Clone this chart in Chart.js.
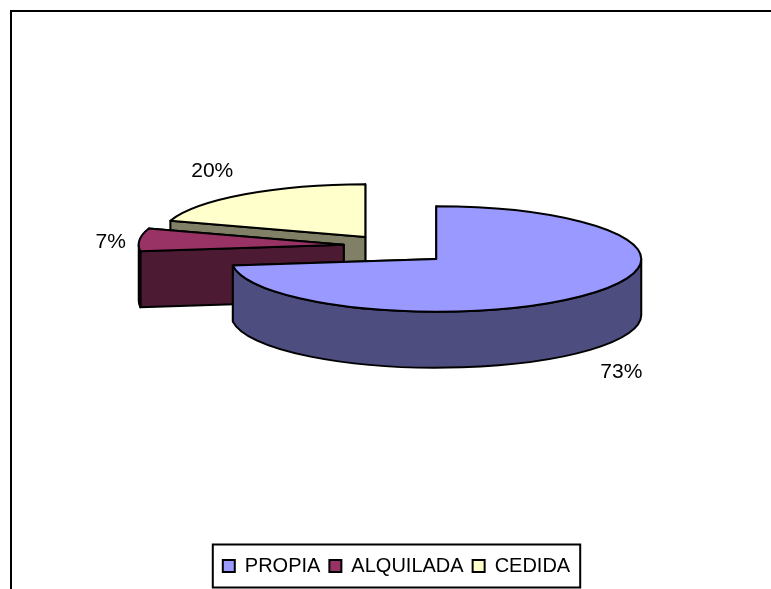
<!DOCTYPE html>
<html>
<head>
<meta charset="utf-8">
<title>Vivienda</title>
<script src="https://cdn.jsdelivr.net/npm/chart.js@4"></script>
<style>
    html, body { margin: 0; padding: 0; background: #fff; overflow: hidden; }
    canvas { display: block; }
</style>
</head>
<body>
<canvas id="pieChart" width="771" height="589"></canvas>
<script>
const categories = ['PROPIA', 'ALQUILADA', 'CEDIDA'];
const shares = [73, 7, 20];
const shareLabels = ['73%', '7%', '20%'];
const topColors = ['#9999FF', '#993366', '#FFFFCC'];
const wallColors = ['#4D4D80', '#4D1A33', '#808066'];

// look of the old 3D pie, Chart.js has no such mode so a plugin extrudes its arcs
const SQUASH = 0.257;
const DEPTH = 56;
const CENTER_Y = 250;
const sliceLift = [0, -4, -2];
const labelNudge = [[5, 72], [6, 3], [-12, -16]];
const drawOrder = [2, 1, 0];

function sliceGeometry(arc) {
    return arc.getProps(['x', 'startAngle', 'endAngle', 'outerRadius']);
}

function drawSlice(ctx, arc, index) {
    const g = sliceGeometry(arc);
    const mid = (g.startAngle + g.endAngle) / 2;
    const offset = arc.options.offset;
    const r = g.outerRadius;
    const ry = r * SQUASH;
    const cx = g.x + Math.cos(mid) * offset;
    const cy = CENTER_Y + Math.sin(mid) * offset * SQUASH + sliceLift[index];
    const px = a => cx + Math.cos(a) * r;
    const py = a => cy + Math.sin(a) * ry;

    ctx.lineWidth = 2;
    ctx.lineJoin = 'round';
    ctx.strokeStyle = '#000';

    const walls = [g.startAngle, g.endAngle].map(a => ({
        sortY: (cy + py(a)) / 2,
        path() {
            ctx.moveTo(cx, cy);
            ctx.lineTo(px(a), py(a));
            ctx.lineTo(px(a), py(a) + DEPTH);
            ctx.lineTo(cx, cy + DEPTH);
            ctx.closePath();
        }
    }));

    // only the front half of the rim can be seen, angle 0 to PI on the canvas
    const rimFrom = Math.max(g.startAngle, 0);
    const rimTo = Math.min(g.endAngle, Math.PI);
    if (rimTo > rimFrom) {
        walls.push({
            sortY: py((rimFrom + rimTo) / 2),
            path() {
                ctx.ellipse(cx, cy, r, ry, 0, rimFrom, rimTo);
                ctx.ellipse(cx, cy + DEPTH, r, ry, 0, rimTo, rimFrom, true);
                ctx.closePath();
            }
        });
    }

    // walls back to front, the top face hides what is behind it
    walls.sort((a, b) => a.sortY - b.sortY);
    walls.forEach(w => {
        ctx.beginPath();
        w.path();
        ctx.fillStyle = wallColors[index];
        ctx.fill();
        ctx.stroke();
    });

    ctx.beginPath();
    ctx.moveTo(cx, cy);
    ctx.ellipse(cx, cy, r, ry, 0, g.startAngle, g.endAngle);
    ctx.closePath();
    ctx.fillStyle = topColors[index];
    ctx.fill();
    ctx.stroke();
}

function drawShareLabel(ctx, arc, index) {
    const g = sliceGeometry(arc);
    const mid = (g.startAngle + g.endAngle) / 2;
    const offset = arc.options.offset;
    const reach = g.outerRadius + 35;
    const x = g.x + Math.cos(mid) * (offset + reach) + labelNudge[index][0];
    const y = CENTER_Y + Math.sin(mid) * (offset + reach) * SQUASH + sliceLift[index] + labelNudge[index][1];
    ctx.fillStyle = '#000';
    ctx.font = '21px "Liberation Sans", Arial, sans-serif';
    ctx.textAlign = 'center';
    ctx.textBaseline = 'middle';
    ctx.fillText(shareLabels[index], x, y);
}

const pie3d = {
    id: 'pie3d',
    beforeDatasetDraw(chart, args) {
        const ctx = chart.ctx;
        const arcs = args.meta.data;
        ctx.save();
        drawOrder.forEach(i => drawSlice(ctx, arcs[i], i));
        drawOrder.forEach(i => drawShareLabel(ctx, arcs[i], i));
        ctx.restore();
        return false;
    },
    afterDraw(chart) {
        const ctx = chart.ctx;
        const boxes = chart.legend.legendHitBoxes;
        const left = Math.min(...boxes.map(b => b.left)) - 10;
        const right = Math.max(...boxes.map(b => b.left + b.width)) + 10;
        const midY = boxes[0].top + boxes[0].height / 2;
        ctx.save();
        ctx.strokeStyle = '#000';
        ctx.lineWidth = 2;
        // outer frame, cut off on the right and at the bottom in the original
        ctx.beginPath();
        ctx.moveTo(11, 589);
        ctx.lineTo(11, 11);
        ctx.lineTo(771, 11);
        ctx.stroke();
        ctx.strokeRect(left, midY - 21.5, right - left, 43);
        ctx.restore();
    }
};

new Chart(document.getElementById('pieChart').getContext('2d'), {
    type: 'pie',
    data: {
        labels: categories,
        datasets: [{
            data: shares,
            backgroundColor: topColors,
            borderColor: '#000',
            borderWidth: 2,
            offset: 53,
            radius: 205
        }]
    },
    options: {
        responsive: false,
        animation: false,
        layout: { padding: { left: 22, right: 0, top: 0, bottom: 3 } },
        plugins: {
            tooltip: { enabled: false },
            legend: {
                position: 'bottom',
                onClick: null,
                labels: {
                    boxWidth: 12,
                    boxHeight: 12,
                    padding: 9,
                    color: '#000',
                    font: { family: '"Liberation Sans", Arial, sans-serif', size: 20 }
                }
            }
        }
    },
    plugins: [pie3d]
});
</script>
</body>
</html>
